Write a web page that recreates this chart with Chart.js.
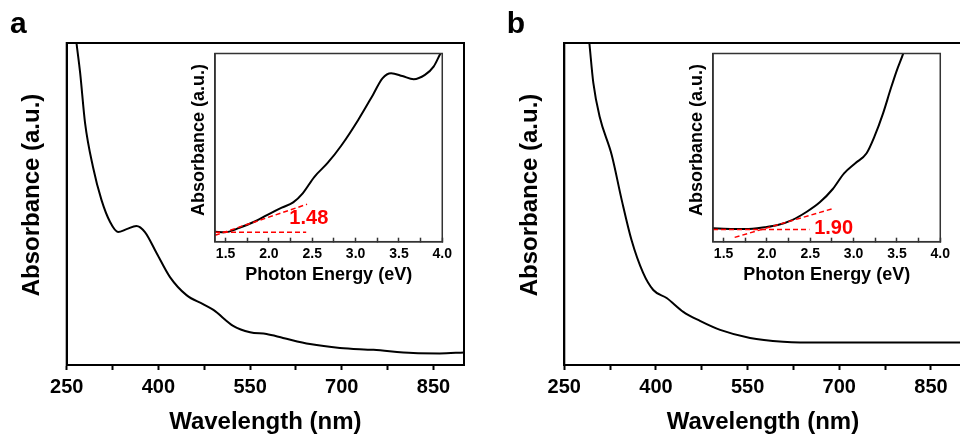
<!DOCTYPE html>
<html lang="en">
<head>
  <meta charset="UTF-8" />
  <title>Absorbance spectra</title>
  <script src="https://cdn.jsdelivr.net/npm/chart.js"></script>
  <style>
    html, body { margin: 0; padding: 0; background: #fff; overflow: hidden; }
    #lienzo { position: relative; width: 960px; height: 439px; overflow: hidden; }
    #lienzo canvas { position: absolute; }
  </style>
</head>
<body>
<div id="lienzo">
  <canvas id="graficoA" width="480" height="439" style="left:0;top:0"></canvas>
  <canvas id="graficoB" width="500" height="439" style="left:480px;top:0"></canvas>
  <canvas id="insetA" width="280" height="250" style="left:180px;top:40px"></canvas>
  <canvas id="insetB" width="280" height="250" style="left:678px;top:40px"></canvas>
</div>

<script>
  // espectros principales (nm, u.a.)
  const longitudA = [258, 266, 272, 280, 293, 307, 321, 334, 348, 364, 378, 397, 419, 446, 473, 490, 523, 550, 577, 604, 648, 697, 752, 817, 860, 900];
  const absorbanciaA = [1.13, 1.0, 0.907, 0.752, 0.615, 0.512, 0.444, 0.413, 0.422, 0.432, 0.413, 0.348, 0.273, 0.217, 0.189, 0.171, 0.121, 0.102, 0.096, 0.084, 0.065, 0.053, 0.047, 0.037, 0.036, 0.039];
  const longitudB = [285, 291, 297.5, 308, 327.6, 344, 360, 379, 395.6, 417.5, 444.7, 472, 505, 554, 608, 636, 700, 800, 900];
  const absorbanciaB = [1.11, 1.0, 0.876, 0.77, 0.652, 0.512, 0.388, 0.286, 0.233, 0.208, 0.165, 0.137, 0.109, 0.084, 0.072, 0.07, 0.07, 0.07, 0.07];

  // insets (eV, u.a.)
  const energiaA = [1.378, 1.49, 1.66, 1.85, 2.017, 2.148, 2.28, 2.39, 2.525, 2.675, 2.84, 3.03, 3.2, 3.31, 3.41, 3.54, 3.67, 3.8, 3.9, 3.97, 4.0];
  const insetValoresA = [0.053, 0.05, 0.074, 0.11, 0.151, 0.181, 0.209, 0.257, 0.345, 0.417, 0.514, 0.647, 0.78, 0.868, 0.895, 0.88, 0.863, 0.886, 0.93, 0.992, 1.02];
  const energiaB = [1.378, 1.75, 1.975, 2.125, 2.29, 2.46, 2.61, 2.76, 2.89, 3.02, 3.15, 3.24, 3.34, 3.43, 3.5, 3.57, 3.62];
  const insetValoresB = [0.071, 0.067, 0.077, 0.089, 0.115, 0.159, 0.209, 0.28, 0.363, 0.417, 0.47, 0.558, 0.682, 0.815, 0.912, 0.997, 1.07];

  // rectas de Tauc (base y tangente)
  const baseA = { x: [1.378, 2.43], y: [0.05, 0.05] };
  const tangenteA = { x: [1.378, 2.44], y: [0.034, 0.199] };
  const baseB = { x: [1.378, 2.49], y: [0.065, 0.065] };
  const tangenteB = { x: [1.628, 2.768], y: [0.023, 0.177] };
  const brechaA = { texto: '1.48', x: 2.46, y: 0.121 };
  const brechaB = { texto: '1.90', x: 2.77, y: 0.071 };

  // marcas de ejes
  const marcasLongitud = [250, 325, 400, 475, 550, 625, 700, 775, 850];
  const etiquetasLongitud = [250, 400, 550, 700, 850];
  const marcasEnergia = [1.5, 1.75, 2.0, 2.25, 2.5, 2.75, 3.0, 3.25, 3.5, 3.75, 4.0];
  const etiquetasEnergia = [1.5, 2.0, 2.5, 3.0, 3.5, 4.0];

  const FUENTE = '"Liberation Sans", Arial, sans-serif';
  const puntos = (xs, ys) => xs.map((x, i) => ({ x, y: ys[i] }));

  const marco = {
    id: 'marco',
    afterDraw(chart, args, opts) {
      const { ctx, chartArea: a } = chart;
      ctx.save();
      ctx.strokeStyle = opts.color;
      ctx.lineWidth = opts.width;
      ctx.strokeRect(a.left, a.top, a.right - a.left, a.bottom - a.top);
      ctx.restore();
    }
  };

  const textos = {
    id: 'textos',
    afterDraw(chart, args, opts) {
      const { ctx, chartArea: a, scales } = chart;
      (opts.items || []).forEach(t => {
        ctx.save();
        ctx.font = t.fuente;
        ctx.fillStyle = t.color || '#000';
        ctx.textAlign = t.align || 'center';
        ctx.textBaseline = t.base || 'middle';
        let x, y;
        if (t.datos) {
          x = scales.x.getPixelForValue(t.datos[0]);
          y = scales.y.getPixelForValue(t.datos[1]);
        } else if (t.pos) {
          [x, y] = t.pos;
        } else {
          x = a.left + t.dx;
          y = (a.top + a.bottom) / 2 + t.dy;
        }
        ctx.translate(x, y);
        if (t.rot) ctx.rotate(t.rot);
        ctx.fillText(t.texto, 0, 0);
        ctx.restore();
      });
    }
  };

  function graficoPrincipal(id, xs, ys, anchoEje, rellenoDer, letra, posLetra) {
    return new Chart(document.getElementById(id), {
      type: 'line',
      data: {
        datasets: [{
          data: puntos(xs, ys),
          borderColor: '#000',
          borderWidth: 2,
          pointRadius: 0,
          cubicInterpolationMode: 'monotone',
          clip: 0
        }]
      },
      options: {
        responsive: false,
        animation: false,
        events: [],
        layout: { padding: { top: 43, right: rellenoDer, left: 0, bottom: 0 } },
        plugins: {
          legend: { display: false },
          tooltip: { enabled: false },
          marco: { color: '#000', width: 2 },
          textos: {
            items: [
              { texto: 'Absorbance (a.u.)', fuente: `bold 24px ${FUENTE}`, dx: -34, dy: -9, rot: -Math.PI / 2 },
              { texto: letra, fuente: `bold 30px ${FUENTE}`, pos: posLetra, align: 'left', base: 'alphabetic' }
            ]
          }
        },
        scales: {
          x: {
            type: 'linear',
            min: 250,
            max: 900,
            afterBuildTicks: s => { s.ticks = marcasLongitud.map(v => ({ value: v })); },
            afterFit: s => { s.height = 74; },
            ticks: {
              autoSkip: false,
              maxRotation: 0,
              color: '#000',
              padding: 5,
              font: { family: FUENTE, size: 20, weight: 'bold' },
              callback: v => etiquetasLongitud.includes(v) ? String(v) : ''
            },
            grid: { drawOnChartArea: false, tickLength: 5, tickWidth: 2, tickColor: '#000' },
            border: { color: '#000', width: 2 },
            title: {
              display: true,
              text: 'Wavelength (nm)',
              color: '#000',
              font: { family: FUENTE, size: 24, weight: 'bold' },
              padding: { top: 0, bottom: 2 }
            }
          },
          y: {
            min: 0,
            max: 1,
            afterFit: s => { s.width = anchoEje; },
            ticks: { display: false },
            grid: { display: false },
            border: { color: '#000', width: 2 }
          }
        }
      },
      plugins: [marco, textos]
    });
  }

  function graficoInset(id, xs, ys, base, tangente, brecha) {
    const discontinua = { borderColor: '#ff0000', borderWidth: 1.5, borderDash: [5, 3], pointRadius: 0, order: 0, clip: 0 };
    return new Chart(document.getElementById(id), {
      type: 'line',
      data: {
        datasets: [
          { data: puntos(xs, ys), borderColor: '#000', borderWidth: 2, pointRadius: 0, cubicInterpolationMode: 'monotone', order: 1, clip: 0 },
          Object.assign({ data: puntos(base.x, base.y) }, discontinua),
          Object.assign({ data: puntos(tangente.x, tangente.y) }, discontinua)
        ]
      },
      options: {
        responsive: false,
        animation: false,
        events: [],
        layout: { padding: { top: 13.5, right: 12.3, left: 0, bottom: 0 } },
        plugins: {
          legend: { display: false },
          tooltip: { enabled: false },
          marco: { color: '#333', width: 1.5 },
          textos: {
            items: [
              { texto: 'Absorbance (a.u.)', fuente: `bold 18px ${FUENTE}`, dx: -15.7, dy: -7.6, rot: -Math.PI / 2 },
              { texto: brecha.texto, fuente: `bold 20px ${FUENTE}`, color: '#ff0000', datos: [brecha.x, brecha.y] }
            ]
          }
        },
        scales: {
          x: {
            type: 'linear',
            min: 1.378,
            max: 4.0,
            afterBuildTicks: s => { s.ticks = marcasEnergia.map(v => ({ value: v })); },
            afterFit: s => { s.height = 48.3; },
            ticks: {
              autoSkip: false,
              maxRotation: 0,
              color: '#000',
              padding: 8,
              font: { family: FUENTE, size: 14, weight: 'bold' },
              callback: v => etiquetasEnergia.includes(v) ? v.toFixed(1) : ''
            },
            grid: { drawOnChartArea: false, tickLength: -4, tickWidth: 1.5, tickColor: '#333' },
            border: { color: '#333', width: 1.5 },
            title: {
              display: true,
              text: 'Photon Energy (eV)',
              color: '#000',
              font: { family: FUENTE, size: 18, weight: 'bold' },
              padding: { top: 0, bottom: 4 }
            }
          },
          y: {
            min: 0,
            max: 1,
            afterFit: s => { s.width = 35; },
            ticks: { display: false },
            grid: { display: false },
            border: { color: '#333', width: 1.5 }
          }
        }
      },
      plugins: [marco, textos]
    });
  }

  graficoPrincipal('graficoA', longitudA, absorbanciaA, 66.7, 16, 'a', [10, 33]);
  graficoPrincipal('graficoB', longitudB, absorbanciaB, 84.3, 18.5, 'b', [26.7, 33]);
  graficoInset('insetA', energiaA, insetValoresA, baseA, tangenteA, brechaA);
  graficoInset('insetB', energiaB, insetValoresB, baseB, tangenteB, brechaB);
</script>
</body>
</html>
